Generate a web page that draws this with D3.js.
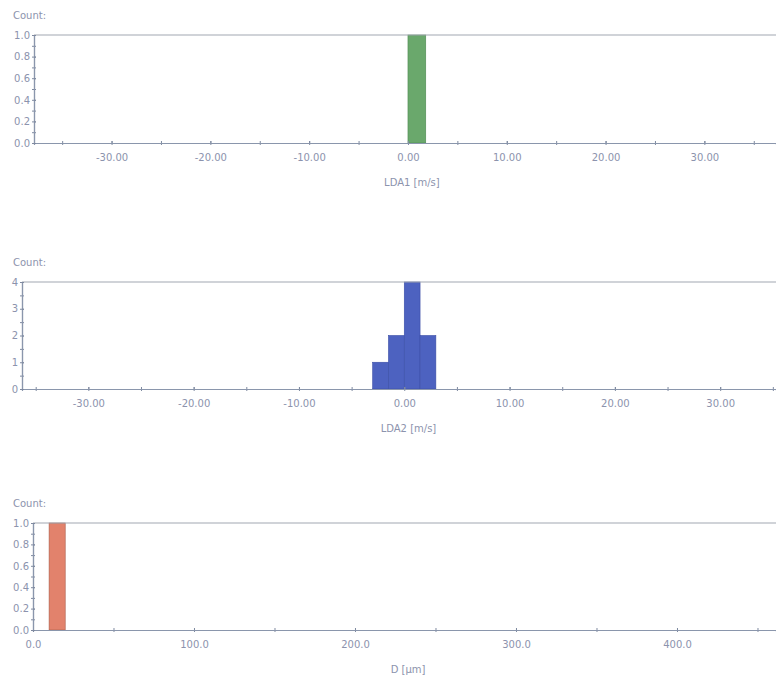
<!DOCTYPE html>
<html>
<head>
<meta charset="utf-8">
<script src="https://cdn.jsdelivr.net/npm/d3@7"></script>
<style>
  body { margin: 0; background: #fff; }
  svg text { font-family: "DejaVu Sans", sans-serif; fill: #8c93ad; }
</style>
</head>
<body>
<div id="chart"></div>
<script>
// histogram bins (edges) and counts
var lda1Edges = [0, 1.8];
var lda1Counts = [1];

var lda2Edges = [-3, -1.5, 0, 1.5, 3];
var lda2Counts = [1, 2, 4, 2];

var dEdges = [10, 20];
var dCounts = [1];

var velTicks = [-30, -20, -10, 0, 10, 20, 30];
var dTicks = [0, 100, 200, 300, 400];

var svg = d3.select("#chart").append("svg")
  .attr("width", 776)
  .attr("height", 681);

function panel(opt) {
  var x = d3.scaleLinear().domain(opt.xDomain).range([opt.left, 776]);
  var y = d3.scaleLinear().domain([0, opt.yMax]).range([opt.bottom, opt.top]);
  var g = svg.append("g");

  // bars
  var bins = opt.counts.map(function(c, i) {
    return {x0: opt.edges[i], x1: opt.edges[i + 1], n: c};
  });
  g.selectAll("rect.bar")
    .data(bins)
    .enter().append("rect")
      .attr("class", "bar")
      .attr("x", function(d) { return x(d.x0); })
      .attr("y", function(d) { return y(d.n); })
      .attr("width", function(d) { return x(d.x1) - x(d.x0); })
      .attr("height", function(d) { return y(0) - y(d.n); })
      .attr("fill", opt.color)
      .attr("stroke", opt.edge)
      .attr("stroke-width", 0.6);

  // top frame line
  g.append("line")
    .attr("x1", opt.left).attr("x2", 776)
    .attr("y1", opt.top).attr("y2", opt.top)
    .attr("stroke", "#a2a8b2").attr("stroke-width", 1.2);

  // x axis: minor ticks then labelled ticks
  var xMinor = d3.range(opt.minorStart, opt.xDomain[1], opt.minorStep);
  var xa = g.append("g")
    .attr("transform", "translate(0," + opt.bottom + ")")
    .call(d3.axisBottom(x).tickValues(xMinor).tickSize(2).tickFormat(""));
  xa.append("g").call(d3.axisBottom(x).tickValues(opt.xTicks).tickSize(0).tickPadding(11)
      .tickFormat(opt.xFormat));
  xa.selectAll("line").attr("y1", -2).attr("stroke", "#7f8aa0");
  xa.selectAll(".domain").attr("stroke", "#8a96ac").attr("stroke-width", 1.2);
  xa.selectAll("text").style("font-size", "10px").style("fill", "#8c93ad");

  // y axis
  var ya = g.append("g")
    .attr("transform", "translate(" + opt.left + ",0)")
    .call(d3.axisLeft(y).tickValues(d3.range(0, opt.yMax + 1e-9, opt.yMinor)).tickSize(2).tickFormat(""));
  ya.append("g").call(d3.axisLeft(y).tickValues(opt.yTicks).tickSize(0).tickPadding(4)
      .tickFormat(opt.yFormat));
  ya.selectAll("line").attr("x1", 2).attr("stroke", "#7f8aa0");
  ya.selectAll(".domain").attr("stroke", "#8a96ac").attr("stroke-width", 1.2);
  ya.selectAll("text").style("font-size", "10px").style("fill", "#8c93ad");

  g.append("text")
    .attr("x", 13).attr("y", opt.top - 16)
    .style("font-size", "10px")
    .text("Count:");

  g.append("text")
    .attr("x", x(opt.titleAt)).attr("y", opt.bottom + 43)
    .attr("text-anchor", "middle")
    .style("font-size", "10px")
    .text(opt.title);
}

function velFmt(d) { return d.toFixed(2); }

panel({
  left: 34, top: 35, bottom: 143, xDomain: [-37.85, 37.25],
  yMax: 1, yTicks: [0, 0.2, 0.4, 0.6, 0.8, 1.0], yMinor: 0.1,
  yFormat: function(d) { return d.toFixed(1); },
  xTicks: velTicks, minorStart: -35, minorStep: 5, xFormat: velFmt,
  edges: lda1Edges, counts: lda1Counts, color: "#6aa86c", edge: "#4f8a52",
  title: "LDA1 [m/s]", titleAt: 0.4
});

panel({
  left: 22, top: 282, bottom: 389, xDomain: [-36.3, 35.3],
  yMax: 4, yTicks: [0, 1, 2, 3, 4], yMinor: 0.5,
  yFormat: function(d) { return d; },
  xTicks: velTicks, minorStart: -35, minorStep: 5, xFormat: velFmt,
  edges: lda2Edges, counts: lda2Counts, color: "#4d62c0", edge: "#3a4ea6",
  title: "LDA2 [m/s]", titleAt: 0.4
});

panel({
  left: 33, top: 523, bottom: 630, xDomain: [0, 461.5],
  yMax: 1, yTicks: [0, 0.2, 0.4, 0.6, 0.8, 1.0], yMinor: 0.1,
  yFormat: function(d) { return d.toFixed(1); },
  xTicks: dTicks, minorStart: 0, minorStep: 50,
  xFormat: function(d) { return d.toFixed(1); },
  edges: dEdges, counts: dCounts, color: "#e2826c", edge: "#a85a48",
  title: "D [\u00b5m]", titleAt: 233
});
</script>
</body>
</html>
